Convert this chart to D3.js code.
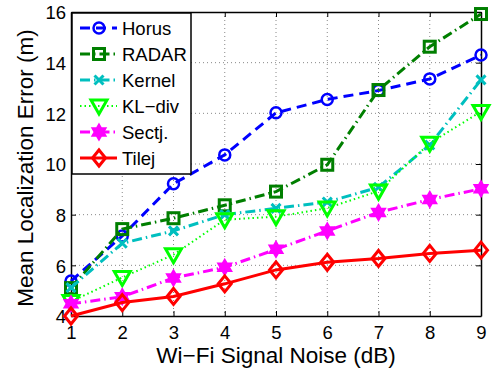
<!DOCTYPE html>
<html>
<head>
<meta charset="utf-8">
<script src="https://cdn.jsdelivr.net/npm/d3@7"></script>
<style>
  body { margin: 0; background: #fff; }
  text { font-family: "Liberation Sans", Arial, sans-serif; }
</style>
</head>
<body>
<div id="chart"></div>
<script>
// data
var noise = [1, 2, 3, 4, 5, 6, 7, 8, 9];
var horus  = [5.38, 7.16, 9.22, 10.36, 12.02, 12.55, 12.9, 13.36, 14.3];
var radar  = [5.1, 7.43, 7.86, 8.37, 8.91, 9.97, 12.92, 14.63, 15.92];
var kernel = [5.12, 6.87, 7.36, 8.0, 8.25, 8.5, 9.08, 10.75, 13.32];
var kldiv  = [4.57, 5.52, 6.42, 7.8, 7.92, 8.26, 8.93, 10.82, 12.07];
var sectj  = [4.48, 4.76, 5.5, 5.92, 6.63, 7.36, 8.09, 8.6, 9.02];
var tilej  = [4.0, 4.53, 4.77, 5.27, 5.82, 6.12, 6.27, 6.47, 6.6];
var xTicks = [1, 2, 3, 4, 5, 6, 7, 8, 9];
var yTicks = [4, 6, 8, 10, 12, 14, 16];

var series = [
  {name: "Horus",   values: horus,  color: "#0000ff", dash: "10,6",        width: 3,   marker: "circle"},
  {name: "RADAR",   values: radar,  color: "#007f00", dash: "10,4,1.5,4",  width: 3,   marker: "square"},
  {name: "Kernel",  values: kernel, color: "#00bfbf", dash: "10,4,1.5,4",  width: 3,   marker: "x"},
  {name: "KL\u2212div", values: kldiv, color: "#00ff00", dash: "1.5,3",   width: 2,   marker: "triangle"},
  {name: "Sectj.",  values: sectj,  color: "#ff00ff", dash: "10,4,1.5,4",  width: 3,   marker: "hexagram"},
  {name: "Tilej",   values: tilej,  color: "#ff0000", dash: null,          width: 3,   marker: "diamond"}
];

var W = 500, H = 372;
var margin = {top: 12, right: 19, bottom: 56, left: 71};
var width = W - margin.left - margin.right,
    height = H - margin.top - margin.bottom;

var svg = d3.select("#chart").append("svg")
    .attr("width", W).attr("height", H);
var g = svg.append("g")
    .attr("transform", "translate(" + margin.left + "," + margin.top + ")");

var x = d3.scaleLinear().domain([1, 9]).range([0, width]);
var y = d3.scaleLinear().domain([4, 16]).range([height, 0]);

// grid
g.append("g").selectAll("line").data(xTicks.slice(1, -1)).enter().append("line")
    .attr("x1", function(d) { return x(d); }).attr("x2", function(d) { return x(d); })
    .attr("y1", 0).attr("y2", height)
    .attr("stroke", "#888").attr("stroke-width", 1).attr("stroke-dasharray", "1,3");
g.append("g").selectAll("line").data(yTicks.slice(1, -1)).enter().append("line")
    .attr("y1", function(d) { return y(d); }).attr("y2", function(d) { return y(d); })
    .attr("x1", 0).attr("x2", width)
    .attr("stroke", "#888").attr("stroke-width", 1).attr("stroke-dasharray", "1,3");

// axes
var xAxis = g.append("g").attr("transform", "translate(0," + height + ")")
    .call(d3.axisBottom(x).tickValues(xTicks).tickSizeInner(-5).tickSizeOuter(0).tickPadding(10));
var yAxis = g.append("g")
    .call(d3.axisLeft(y).tickValues(yTicks).tickSizeInner(-5).tickSizeOuter(0).tickPadding(5));
g.append("g").call(d3.axisTop(x).tickValues(xTicks).tickSizeInner(-5).tickSizeOuter(0).tickFormat(""));
g.append("g").attr("transform", "translate(" + width + ",0)")
    .call(d3.axisRight(y).tickValues(yTicks).tickSizeInner(-5).tickSizeOuter(0).tickFormat(""));
g.selectAll(".domain").attr("stroke", "#000").attr("stroke-width", 1.5);
g.selectAll(".tick line").attr("stroke", "#000");
g.selectAll(".tick text").attr("font-size", 18.5).attr("fill", "#000")
    .style("font-family", "'Liberation Sans', Arial, sans-serif");
yAxis.selectAll(".tick text").attr("dy", "0.36em");

// axis titles
svg.append("text")
    .attr("x", margin.left + width / 2).attr("y", 363)
    .attr("text-anchor", "middle").attr("font-size", 22.5)
    .text("Wi\u2212Fi Signal Noise (dB)");
svg.append("text")
    .attr("transform", "translate(33,168) rotate(-90)")
    .attr("text-anchor", "middle").attr("font-size", 22.5)
    .text("Mean Localization Error (m)");

function drawMarker(sel, s) {
  var c = s.color;
  if (s.marker === "circle") {
    sel.append("circle").attr("r", 5.5).attr("fill", "none").attr("stroke", c).attr("stroke-width", 2.5);
  } else if (s.marker === "square") {
    sel.append("rect").attr("x", -5.5).attr("y", -5.5).attr("width", 11).attr("height", 11)
      .attr("fill", "none").attr("stroke", c).attr("stroke-width", 3);
  } else if (s.marker === "x") {
    sel.append("path").attr("d", "M-4.5,-4.5L4.5,4.5M-4.5,4.5L4.5,-4.5")
      .attr("stroke", c).attr("stroke-width", 3);
  } else if (s.marker === "triangle") {
    sel.append("path").attr("d", "M-8,-6L8,-6L0,8Z")
      .attr("fill", "none").attr("stroke", c).attr("stroke-width", 3).attr("stroke-linejoin", "miter");
  } else if (s.marker === "hexagram") {
    var r = 8;
    var t1 = [0, 1, 2].map(function(i) { var a = -Math.PI / 2 + i * 2 * Math.PI / 3; return [r * Math.cos(a), r * Math.sin(a)]; });
    var t2 = [0, 1, 2].map(function(i) { var a = Math.PI / 2 + i * 2 * Math.PI / 3; return [r * Math.cos(a), r * Math.sin(a)]; });
    sel.append("path").attr("d", "M" + t1.join("L") + "Z M" + t2.join("L") + "Z")
      .attr("fill", c).attr("stroke", c).attr("stroke-width", 1.5);
  } else if (s.marker === "diamond") {
    sel.append("path").attr("d", "M0,-8L6.5,0L0,8L-6.5,0Z")
      .attr("fill", "none").attr("stroke", c).attr("stroke-width", 3);
  }
}

var line = d3.line()
    .x(function(d, i) { return x(noise[i]); })
    .y(function(d) { return y(d); });

series.forEach(function(s) {
  g.append("path").datum(s.values)
    .attr("fill", "none").attr("stroke", s.color).attr("stroke-width", s.width)
    .attr("stroke-dasharray", s.dash).attr("d", line);
  g.append("g").selectAll("g").data(s.values).enter().append("g")
    .attr("transform", function(d, i) { return "translate(" + x(noise[i]) + "," + y(d) + ")"; })
    .each(function() { drawMarker(d3.select(this), s); });
});

// legend
var lg = g.append("g").attr("transform", "translate(1,1)");
lg.append("rect").attr("width", 119).attr("height", 161)
    .attr("fill", "#fff").attr("stroke", "#000").attr("stroke-width", 1.5);
series.forEach(function(s, i) {
  var yy = 15 + i * 26;
  lg.append("line").attr("x1", 8).attr("x2", 45).attr("y1", yy).attr("y2", yy)
    .attr("stroke", s.color).attr("stroke-width", s.width).attr("stroke-dasharray", s.dash);
  var m = lg.append("g").attr("transform", "translate(27," + yy + ")");
  drawMarker(m, s);
  lg.append("text").attr("x", 50).attr("y", yy).attr("dy", "0.36em")
    .attr("font-size", 18.5).text(s.name);
});
</script>
</body>
</html>
